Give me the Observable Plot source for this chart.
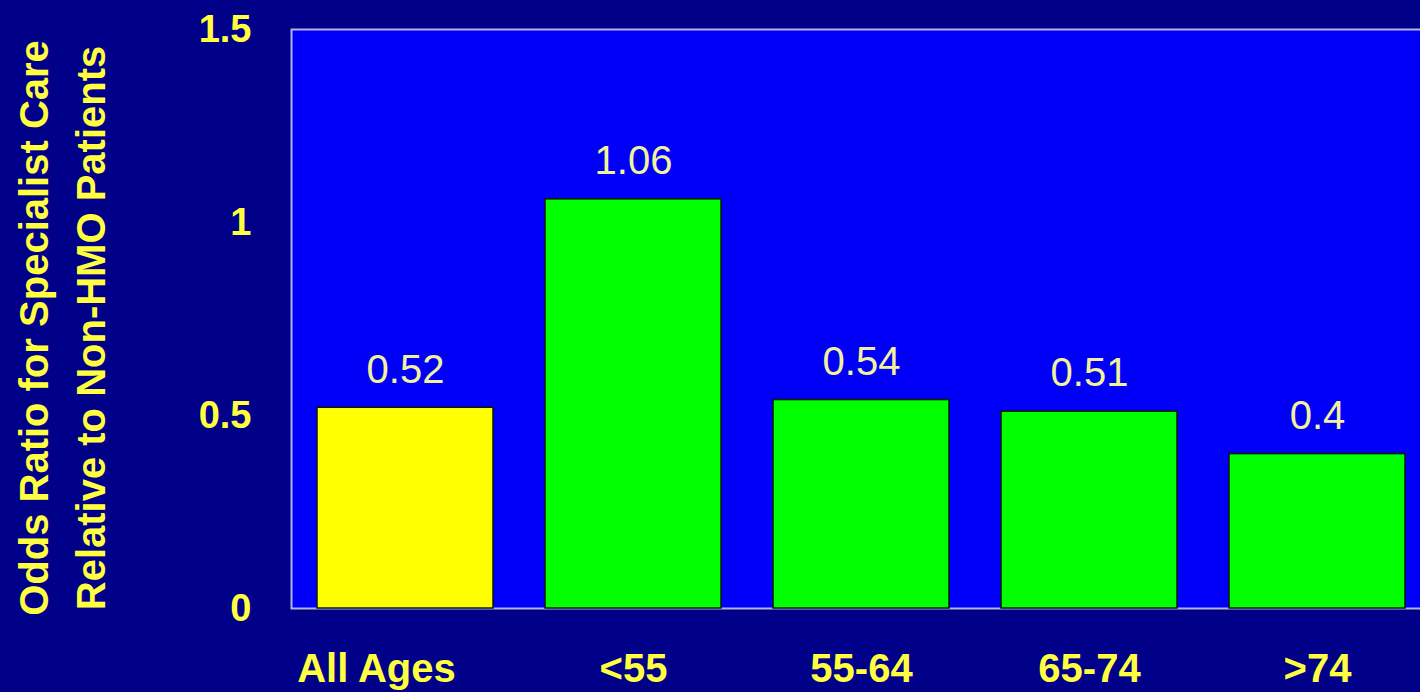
<!DOCTYPE html>
<html>
<head>
<meta charset="utf-8">
<script src="https://cdn.jsdelivr.net/npm/d3@7"></script>
<script src="https://cdn.jsdelivr.net/npm/@observablehq/plot@0.6"></script>
<style>
  html, body { margin: 0; padding: 0; background: #000088; overflow: hidden; }
  #chart svg { display: block; max-width: none !important; }
</style>
</head>
<body>
<div id="chart"></div>
<script>
// Age groups and odds ratios for specialist care (HMO vs non-HMO patients)
const groups = ["All Ages", "<55", "55-64", "65-74", ">74"];
const oddsRatios = [0.52, 1.06, 0.54, 0.51, 0.4];
const barColors = ["#ffff00", "#00ff00", "#00ff00", "#00ff00", "#00ff00"];
const yTicks = [0, 0.5, 1, 1.5];
const yTitle = ["Odds Ratio for Specialist Care", "Relative to Non-HMO Patients"];

const data = groups.map((g, i) => ({group: g, value: oddsRatios[i], color: barColors[i]}));

const font = "Liberation Sans, Arial, Helvetica, sans-serif";

const chart = Plot.plot({
  width: 1432,
  height: 692,
  marginLeft: 291,
  marginRight: 1,
  marginTop: 29,
  marginBottom: 84,
  style: {background: "#000088", fontFamily: font, maxWidth: "none"},
  x: {domain: groups, paddingInner: 0.228, paddingOuter: 0.114, axis: null},
  y: {domain: [0, 1.5], axis: null},
  marks: [
    Plot.frame({fill: "#0000f8", stroke: "#b4b4e8", strokeWidth: 2}),
    Plot.barY(data, {x: "group", y: "value", fill: "color", stroke: "#0a1a0a", strokeWidth: 1.5}),
    // value labels above the bars
    Plot.text(data, {
      x: "group", y: "value", text: d => String(d.value),
      dy: -38, lineAnchor: "middle", fontSize: 40, fill: "#f2f29a"
    }),
    // y tick labels
    Plot.axisY({
      ticks: yTicks, tickSize: 0, tickPadding: 40, tickFormat: d => String(d), label: null,
      fontSize: 38, fontWeight: "bold", fill: "#ffff40", textAnchor: "end"
    }),
    // x category labels
    Plot.text(data.slice(0, 1), {
      x: "group", text: "group", frameAnchor: "bottom", dy: 61, dx: -29,
      lineAnchor: "middle", fontSize: 40, fontWeight: "bold", fill: "#ffff40"
    }),
    Plot.text(data.slice(1), {
      x: "group", text: "group", frameAnchor: "bottom", dy: 61,
      lineAnchor: "middle", fontSize: 40, fontWeight: "bold", fill: "#ffff40"
    }),
    // two-line rotated y-axis title
    Plot.text([yTitle.join("\n")], {
      frameAnchor: "left", rotate: -90, dx: -233, dy: 9,
      textAnchor: "middle", lineAnchor: "middle", lineHeight: 1.43,
      fontSize: 40, fontWeight: "bold", fill: "#ffff40"
    })
  ]
});

document.getElementById("chart").appendChild(chart);
</script>
</body>
</html>
